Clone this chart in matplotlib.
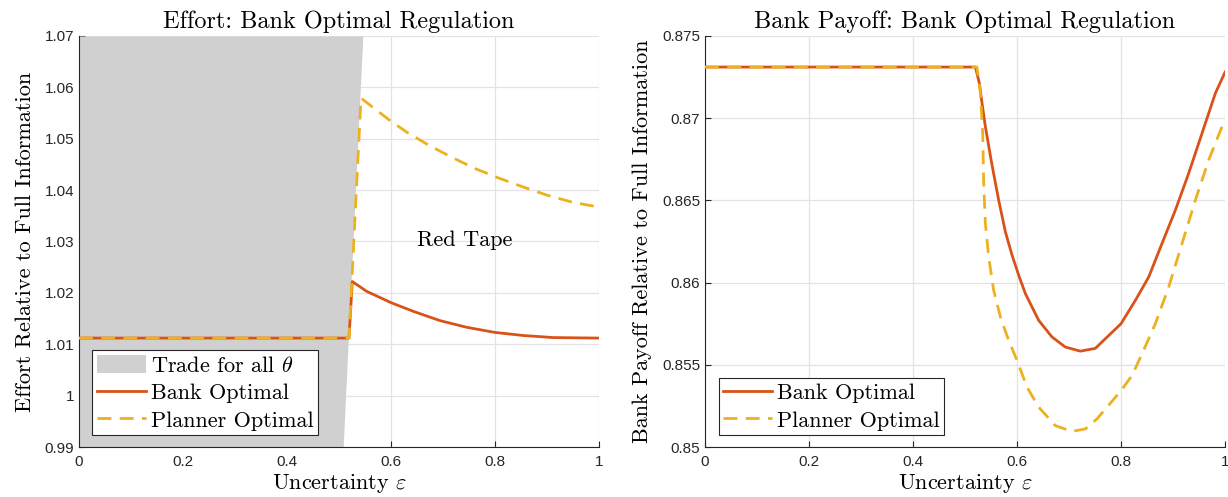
import matplotlib
matplotlib.use('Agg')
import matplotlib.pyplot as plt
import numpy as np

# values
trade_y = [0.99, 1.07]
trade_x = [0.508, 0.5458]

eff_eps_bank = [0.0, 0.5192, 0.5256, 0.5532, 0.6, 0.643, 0.6942, 0.7455, 0.8, 0.8545, 0.9122, 1.0]
eff_bank = [1.0112, 1.0112, 1.0222, 1.0203, 1.0181, 1.0164, 1.0146, 1.0133, 1.0123, 1.0117, 1.0113, 1.0112]
eff_eps_plan = [0.0, 0.5192, 0.5423, 0.6, 0.6301, 0.675, 0.7167, 0.7615, 0.8083, 0.8545, 0.9006, 0.9506, 1.0]
eff_plan = [1.0112, 1.0112, 1.0579, 1.0534, 1.0513, 1.0486, 1.0464, 1.0442, 1.0423, 1.0406, 1.0390, 1.0376, 1.0367]

pay_eps_bank = [0.0, 0.520, 0.5276, 0.5327, 0.5391, 0.5519, 0.5647, 0.5776, 0.5904, 0.6032,
                0.616, 0.6417, 0.6673, 0.6929, 0.7218, 0.7506, 0.8, 0.8276, 0.8532, 0.8788,
                0.9045, 0.9301, 0.9558, 0.9814, 1.0]
pay_bank = [0.87311, 0.87311, 0.87213, 0.87091, 0.86949, 0.86715, 0.86502, 0.86309, 0.86167, 0.86045,
            0.85933, 0.85770, 0.85669, 0.85608, 0.85583, 0.85600, 0.85750, 0.85892, 0.86034, 0.86238,
            0.86441, 0.86665, 0.86909, 0.87152, 0.87280]
pay_eps_plan = [0.0, 0.523, 0.5295, 0.534, 0.5359, 0.5391, 0.5455, 0.5551, 0.568, 0.584, 0.600,
                0.6192, 0.6417, 0.6737, 0.7058, 0.7314, 0.7538, 0.8, 0.8212, 0.8404, 0.866,
                0.8917, 0.9173, 0.943, 0.9686, 0.9942, 1.0]
pay_plan = [0.87311, 0.87311, 0.87152, 0.86909, 0.86604, 0.86360, 0.86156, 0.85953, 0.85791, 0.85648,
            0.85526, 0.85364, 0.85242, 0.85130, 0.85095, 0.85110, 0.85171, 0.85343, 0.85435, 0.85567,
            0.85750, 0.85973, 0.86238, 0.86502, 0.86746, 0.86949, 0.86985]

ORANGE = '#D95319'
YELLOW = '#EDB120'
GRAY = '#D0D0D0'
SERIF = 'cmr10'
FS = 16

plt.rcParams['mathtext.fontset'] = 'cm'
plt.rcParams['font.family'] = 'Liberation Sans'

fig = plt.figure(figsize=(12.28, 4.97), dpi=100)
ax1 = fig.add_axes([0.0643, 0.1006, 0.4235, 0.827])
ax2 = fig.add_axes([0.5741, 0.1006, 0.4235, 0.827])


def style(ax):
    ax.set_axisbelow(True)
    ax.grid(True, color='#E3E3E3', linewidth=0.9)
    for s in ['top', 'right']:
        ax.spines[s].set_visible(False)
    for s in ['left', 'bottom']:
        ax.spines[s].set_color('#262626')
        ax.spines[s].set_linewidth(0.8)
    ax.tick_params(direction='in', length=4, width=0.8, color='#262626',
                   labelsize=11, labelcolor='#262626')
    ax.tick_params(axis='x', pad=6)
    ax.set_xlim(0, 1)
    ax.set_xticks([0, 0.2, 0.4, 0.6, 0.8, 1.0])
    ax.set_xticklabels(['0', '0.2', '0.4', '0.6', '0.8', '1'])
    ax.set_xlabel(r'Uncertainty $\varepsilon$', fontfamily=SERIF, fontsize=FS, labelpad=2)


def legend(ax):
    leg = ax.legend(loc='lower left', bbox_to_anchor=(0.026, 0.029), prop={'family': SERIF, 'size': FS},
                    fancybox=False, framealpha=1, edgecolor='#262626', handlelength=2.2,
                    handleheight=0.9, handletextpad=0.25, borderpad=0.2, labelspacing=0.3,
                    borderaxespad=0)
    leg.get_frame().set_linewidth(0.8)


# left panel: effort
style(ax1)
ax1.fill_betweenx(trade_y, 0, trade_x, color=GRAY, linewidth=0, zorder=1, label=r'Trade for all $\theta$')
ax1.plot(eff_eps_bank, eff_bank, color=ORANGE, lw=2.0, zorder=3, label='Bank Optimal')
ax1.plot(eff_eps_plan, eff_plan, color=YELLOW, lw=2.0, ls=(0, (5, 3)), zorder=4, label='Planner Optimal')
ax1.set_ylim(0.99, 1.07)
ax1.set_yticks(np.arange(0.99, 1.0701, 0.01))
ax1.set_yticklabels(['0.99', '1', '1.01', '1.02', '1.03', '1.04', '1.05', '1.06', '1.07'])
ax1.text(0.742, 1.0303, 'Red Tape', fontfamily=SERIF, fontsize=FS, ha='center', va='center')
ax1.set_title('Effort: Bank Optimal Regulation', fontfamily=SERIF, fontsize=17.5, pad=6)
ax1.set_ylabel('Effort Relative to Full Information', fontfamily=SERIF, fontsize=FS, labelpad=7)
legend(ax1)

# right panel: bank payoff
style(ax2)
ax2.plot(pay_eps_bank, pay_bank, color=ORANGE, lw=2.0, zorder=3, label='Bank Optimal')
ax2.plot(pay_eps_plan, pay_plan, color=YELLOW, lw=2.0, ls=(0, (5, 3)), zorder=4, label='Planner Optimal')
ax2.set_ylim(0.85, 0.875)
ax2.set_yticks([0.85, 0.855, 0.86, 0.865, 0.87, 0.875])
ax2.set_yticklabels(['0.85', '0.855', '0.86', '0.865', '0.87', '0.875'])
ax2.set_title('Bank Payoff: Bank Optimal Regulation', fontfamily=SERIF, fontsize=17.5, pad=6)
ax2.set_ylabel('Bank Payoff Relative to Full Information', fontfamily=SERIF, fontsize=FS, labelpad=7)
legend(ax2)

fig.savefig('out.png', dpi=100)
